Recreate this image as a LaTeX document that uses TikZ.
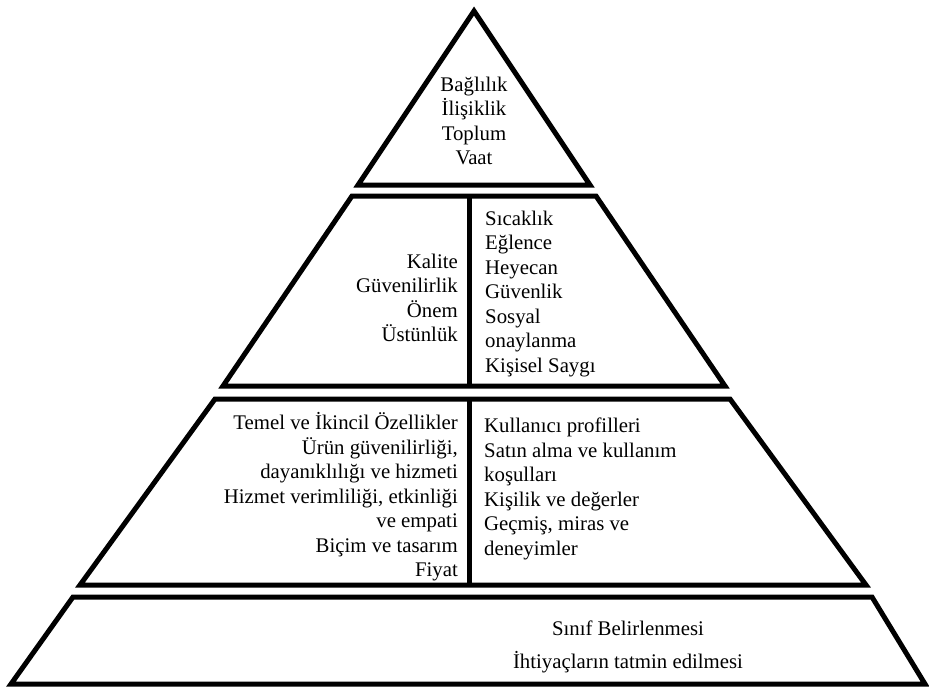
\documentclass[tikz,border=0pt]{standalone}
\usepackage{fontspec}
\setmainfont{Liberation Serif}
\begin{document}
\begin{tikzpicture}[x=1pt,y=-1pt,
  tier/.style={draw=black, line width=5pt, line join=miter, miter limit=20},
  divider/.style={draw=black, line width=5pt},
  lbl/.style={inner sep=0pt, font=\fontsize{20.8}{24.5}\selectfont}]
\useasboundingbox (0,0) rectangle (929,689);

% top tier
\draw[tier] (474,11) -- (590,185) -- (358,185) -- cycle;
% second tier
\draw[tier] (352,196) -- (596,196) -- (725,386) -- (223,386) -- cycle;
\draw[divider] (469,196) -- (469,386);
% third tier
\draw[tier] (215,399) -- (730,399) -- (866,585) -- (80,585) -- cycle;
\draw[divider] (469,399) -- (469,585);
% base tier
\draw[tier] (73,597) -- (872,597) -- (925,684) -- (11,684) -- cycle;

% texts
\node[lbl, align=center] (top) at (474,121)
  {Bağlılık\\İlişiklik\\Toplum\\Vaat};
\node[lbl, align=right, anchor=east] (midL) at (458,298)
  {Kalite\\Güvenilirlik\\Önem\\Üstünlük};
\node[lbl, align=left, anchor=west] (midR) at (485,294)
  {Sıcaklık\\Eğlence\\Heyecan\\Güvenlik\\Sosyal\\onaylanma\\Kişisel Saygı};
\node[lbl, align=right, anchor=east] (lowL) at (458,497)
  {Temel ve İkincil Özellikler\\Ürün güvenilirliği,\\dayanıklılığı ve hizmeti\\Hizmet verimliliği, etkinliği\\ve empati\\Biçim ve tasarım\\Fiyat};
\node[lbl, align=left, anchor=west] (lowR) at (484,489)
  {Kullanıcı profilleri\\Satın alma ve kullanım\\koşulları\\Kişilik ve değerler\\Geçmiş, miras ve\\deneyimler};
\node[lbl] (base1) at (628,628) {Sınıf Belirlenmesi};
\node[lbl] (base2) at (628,662) {İhtiyaçların tatmin edilmesi};
\end{tikzpicture}
\end{document}
